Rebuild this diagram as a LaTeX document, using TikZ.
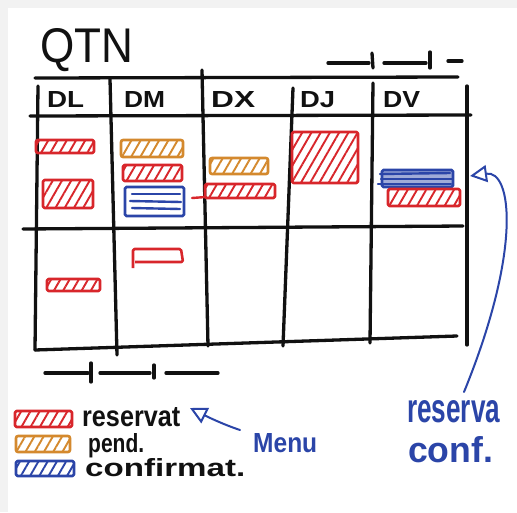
\documentclass[tikz,border=0pt]{standalone}
\usepackage{fontspec}
\setmainfont{Liberation Sans}
\usetikzlibrary{patterns.meta,arrows.meta}
\definecolor{hred}{HTML}{D8262B}
\definecolor{horange}{HTML}{D4892E}
\definecolor{hblue}{HTML}{2B45A8}
\definecolor{hink}{HTML}{111111}
\definecolor{hgray}{HTML}{F2F2F2}
\newcommand{\hw}[3]{\resizebox{#1pt}{#2pt}{#3}}
\tikzset{
  grid/.style={draw=hink,line width=3.3pt,line cap=round},
  redbar/.style={draw=hred,line width=2.6pt,rounded corners=1.5pt,line join=round,
     pattern={Lines[angle=60,distance=8pt,line width=1.9pt]},pattern color=hred},
  orbar/.style={draw=horange,line width=2.6pt,rounded corners=2pt,line join=round,
     pattern={Lines[angle=60,distance=8pt,line width=1.9pt]},pattern color=horange},
  bluehatch/.style={draw=hblue,line width=2.6pt,rounded corners=1.5pt,line join=round,
     pattern={Lines[angle=60,distance=8pt,line width=1.9pt]},pattern color=hblue},
  bluebar/.style={draw=hblue,line width=2.8pt,rounded corners=1.5pt,line join=round},
  blueline/.style={draw=hblue,line width=2.4pt,line cap=round},
  txt/.style={inner sep=0pt,anchor=base west,text=hink,font=\bfseries},
  btxt/.style={inner sep=0pt,anchor=base west,text=hblue,font=\bfseries},
  harrow/.style={draw=hblue,line width=2pt,line cap=round,
     -{Triangle[open,length=17pt,width=17pt,line width=2pt]}},
}
\begin{document}
\begin{tikzpicture}[x=1pt,y=-1pt]
\useasboundingbox (0,0) rectangle (517,512);
\fill[hgray] (0,0) rectangle (517,512);
\fill[white] (8,8) rectangle (517,512);

% title and top scale
\node[txt,font=\mdseries] (qtn) at (40,62) {\hw{93}{34}{QTN}};
\draw[grid] (328,63) -- (369,63);
\draw[grid] (372,53) -- (373,68);
\draw[grid] (384,63) -- (426,63);
\draw[grid] (430,52) -- (430,68);
\draw[grid] (448,61) -- (462,61);

% table
\draw[grid] (35,78) -- (458,77);
\draw[grid] (30,116) -- (471,115);
\draw[grid] (23,229) -- (463,226);
\draw[grid] (35,350) -- (457,336);
\draw[grid] (38,86) -- (35,350);
\draw[grid] (110,79) -- (117,355);
\draw[grid] (202,70) -- (208,346);
\draw[grid] (293,88) -- (283,346);
\draw[grid] (373,83) -- (370,343);
\draw[grid] (467,86) -- (467,345);

% headers
\node[txt] (hdl) at (47,107) {\hw{37}{16}{DL}};
\node[txt] (hdm) at (124,107) {\hw{41}{16}{DM}};
\node[txt] (hdx) at (211,107) {\hw{44}{16}{DX}};
\node[txt] (hdj) at (300,107) {\hw{35}{16}{DJ}};
\node[txt] (hdv) at (383,107) {\hw{37}{16}{DV}};

% bars row 1
\draw[redbar] (36,140) rectangle (94,153);
\draw[redbar] (43,180) rectangle (93,208);
\draw[orbar] (121,140) rectangle (183,157);
\draw[redbar] (123,165) rectangle (182,181);
\draw[bluebar] (125,187) rectangle (184,216);
\draw[blueline] (132,194) -- (180,194);
\draw[blueline] (130,201) -- (181,202);
\draw[blueline] (132,208) -- (180,209);
\draw[orbar] (210,158) rectangle (268,174);
\draw[redbar] (205,184) rectangle (275,198);
\draw[draw=hred,line width=2.4pt,line cap=round] (192,198) -- (206,197);
\draw[redbar] (292,132) rectangle (358,183);
\draw[bluebar,fill=hblue!45] (382,170) rectangle (453,187);
\draw[blueline] (380,174) -- (450,173);
\draw[blueline] (381,179) -- (452,179);
\draw[blueline] (378,184) -- (451,184);
\draw[redbar] (388,189) rectangle (460,206);

% bars row 2
\draw[redbar] (47,279) rectangle (100,291);
\draw[draw=hred,line width=2.6pt,rounded corners=1.5pt,line join=round] (133,268) -- (133,249) -- (181,249) -- (183,262) -- (135,262);

% bottom scale
\draw[grid] (45,373) -- (88,373);
\draw[grid] (91,363) -- (91,382);
\draw[grid] (100,373) -- (150,373);
\draw[grid] (154,365) -- (154,378);
\draw[grid] (166,373) -- (218,373);

% legend
\draw[redbar] (15,411) rectangle (72,427);
\draw[orbar] (16,436) rectangle (70,452);
\draw[bluehatch] (16,461) rectangle (74,476);
\node[txt] (lres) at (82,426) {\hw{98}{19}{reservat}};
\node[txt] (lpend) at (88,452) {\hw{56}{19}{pend.}};
\node[txt] (lconf) at (85,476) {\hw{160}{18}{confirmat.}};

% blue annotations
\node[btxt] (menu) at (253,452) {\hw{64}{19}{Menu}};
\node[btxt] (resv) at (407,422) {\hw{93}{22}{reserva}};
\node[btxt] (conf) at (408,462) {\hw{85}{26}{conf.}};
\coordinate (menustart) at (240,430);
\coordinate (menutip) at (190,408);
\coordinate (rstart) at (464,392);
\coordinate (rtip) at (470,176);
\draw[harrow] (menustart) .. controls (222,424) and (206,416) .. (menutip);
\draw[harrow] (rstart) .. controls (522,250) and (512,170) .. (rtip);
\end{tikzpicture}
\end{document}
